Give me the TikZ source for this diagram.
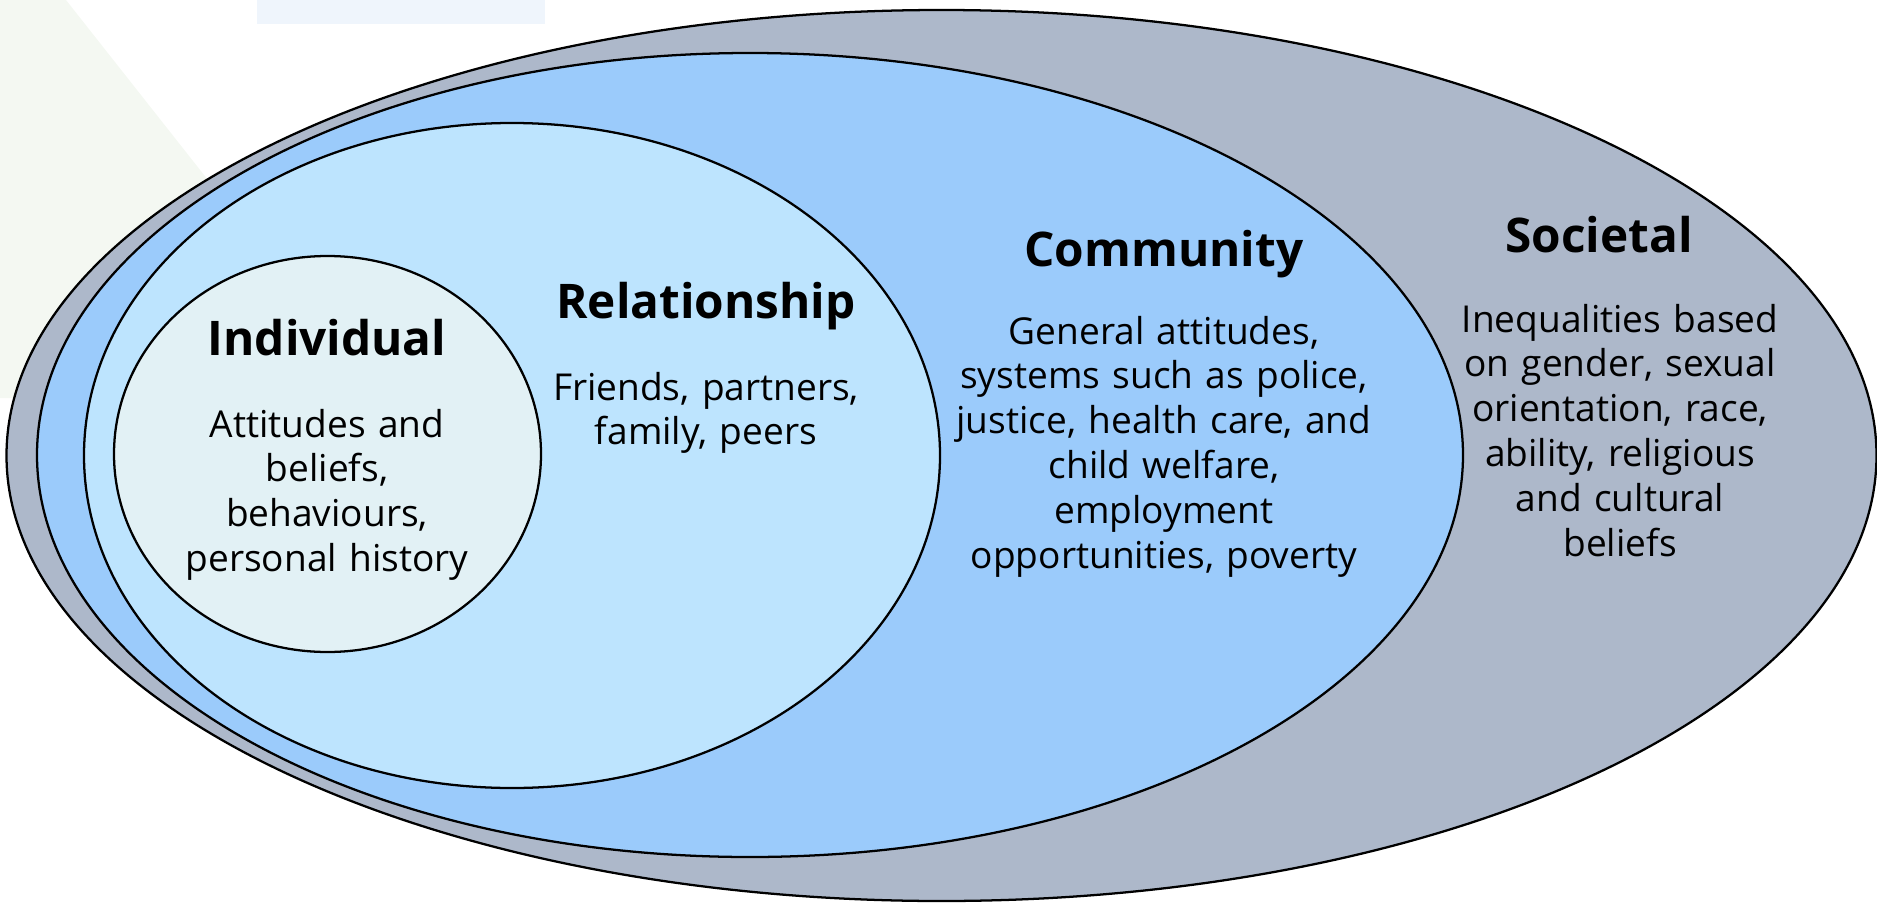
\documentclass[tikz,border=0pt]{standalone}
\usepackage{fontspec}
\setmainfont{Open Sans}
\usepackage{xcolor}

\definecolor{societalgray}{HTML}{ADB8CA}
\definecolor{communityblue}{HTML}{9BCBFB}
\definecolor{relationblue}{HTML}{BDE4FE}
\definecolor{individualblue}{HTML}{E2F1F5}
\definecolor{faintgreen}{HTML}{F4F8F2}
\definecolor{faintblue}{HTML}{EFF5FC}

\tikzset{
  ring/.style={draw=black, line width=1.7pt},
  heading/.style={font=\fontsize{35.8}{43}\selectfont\bfseries, anchor=base, inner sep=0pt},
  bodytext/.style={font=\fontsize{27.8}{33.6}\selectfont, align=center, anchor=base, inner sep=0pt, text width=360pt},
}

\begin{document}
\begin{tikzpicture}[x=0.75pt,y=0.75pt,yscale=-1]
        \useasboundingbox (0,0) rectangle (1877,903);

        %Shape: faint background pieces
        \fill [faintgreen] (0,0) -- (66,0) -- (380,398) -- (0,398) -- cycle ;
        \fill [faintblue] (257,0) rectangle (545,24) ;

        %Shape: Ellipse [id:societal]
        \draw [ring, fill=societalgray] (941.5,455.5) ellipse [x radius=935, y radius=445.5] ;
        %Shape: Ellipse [id:community]
        \draw [ring, fill=communityblue] (750,455) ellipse [x radius=713, y radius=402] ;
        %Shape: Ellipse [id:relationship]
        \draw [ring, fill=relationblue] (512,455.5) ellipse [x radius=428, y radius=332.5] ;
        %Shape: Ellipse [id:individual]
        \draw [ring, fill=individualblue] (327.5,454) ellipse [x radius=213.5, y radius=198] ;

        % Text Node
        \node [heading] (indivtitle) at (327,355) {Individual};
        % Text Node
        \node [bodytext] (indivtext) at (327,437) {Attitudes and\\beliefs,\\behaviours,\\personal history};
        % Text Node
        \node [heading] (relatitle) at (706,318) {Relationship};
        % Text Node
        \node [bodytext] (relatext) at (706,400) {Friends, partners,\\family, peers};
        % Text Node
        \node [heading] (commtitle) at (1164,266) {Community};
        % Text Node
        \node [bodytext] (commtext) at (1164,344) {General attitudes,\\systems such as police,\\justice, health care, and\\child welfare,\\employment\\opportunities, poverty};
        % Text Node
        \node [heading] (soctitle) at (1599,252) {Societal};
        % Text Node
        \node [bodytext] (soctext) at (1620,332) {Inequalities based\\on gender, sexual\\orientation, race,\\ability, religious\\and cultural\\beliefs};

\end{tikzpicture}
\end{document}
